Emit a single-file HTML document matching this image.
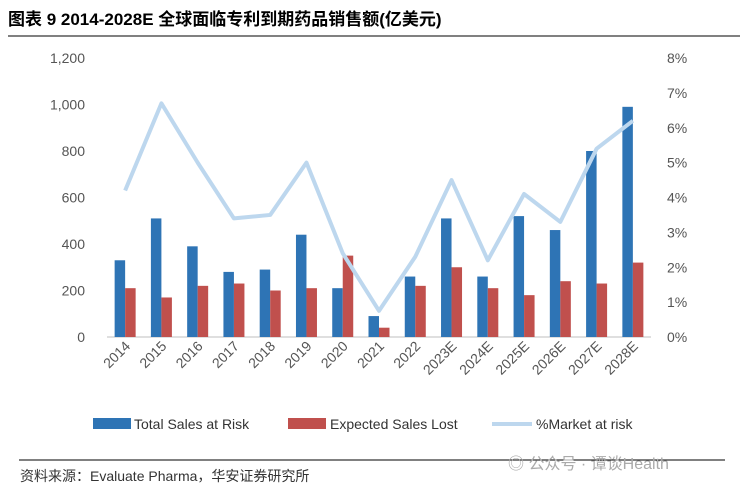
<!DOCTYPE html>
<html><head><meta charset="utf-8">
<style>
body{margin:0;background:#fff;width:748px;height:491px;overflow:hidden;font-family:"Liberation Sans","Noto Sans CJK SC",sans-serif;}
svg text{font-family:"Liberation Sans","Noto Sans CJK SC",sans-serif;}
</style></head><body>
<svg id="c" width="748" height="491">
<text x="8" y="25" font-size="17" font-weight="bold" fill="#000">图表 9 2014-2028E 全球面临专利到期药品销售额(亿美元)</text>
<line x1="8" y1="36" x2="740" y2="36" stroke="#000" stroke-width="1"/>
<g id="plot"></g>
<g>
<rect x="93" y="418" width="38" height="11" fill="#2e74b5"/>
<text x="134" y="429" font-size="14" fill="#333">Total Sales at Risk</text>
<rect x="288" y="418" width="38" height="11" fill="#c0504d"/>
<text x="330" y="429" font-size="14" fill="#333">Expected Sales Lost</text>
<line x1="492" y1="424" x2="532" y2="424" stroke="#bdd7ee" stroke-width="4"/>
<text x="536" y="429" font-size="14" fill="#333">%Market at risk</text>
</g>
<line x1="19" y1="460" x2="725" y2="460" stroke="#000" stroke-width="1"/>
<text x="20" y="481" font-size="14" fill="#333">资料来源：Evaluate Pharma，华安证券研究所</text>
<text x="508" y="469" font-size="16" fill="#aaa">◎ 公众号 · 谭谈Health</text>
</svg>
<script>
const categories=["2014","2015","2016","2017","2018","2019","2020","2021","2022","2023E","2024E","2025E","2026E","2027E","2028E"];
const totalSales=[330,510,390,280,290,440,210,90,260,510,260,520,460,800,990];
const expectedLost=[210,170,220,230,200,210,350,40,220,300,210,180,240,230,320];
const marketPct=[4.2,6.7,5.0,3.4,3.5,5.0,2.4,0.75,2.3,4.5,2.2,4.1,3.3,5.4,6.2];
const leftTicks=[0,200,400,600,800,1000,1200];
const rightTicks=[0,1,2,3,4,5,6,7,8];
const NS="http://www.w3.org/2000/svg";
const g=document.getElementById('plot');
const X0=107,X1=651,Y0=337,Y1=58;
const step=(X1-X0)/categories.length;
const xc=i=>X0+step*(i+0.5);
const yL=v=>Y0-(v/1200)*(Y0-Y1);
const yR=v=>Y0-(v/8)*(Y0-Y1);
function mk(t,a){const e=document.createElementNS(NS,t);for(const k in a)e.setAttribute(k,a[k]);g.appendChild(e);return e;}
leftTicks.forEach(v=>{
 const t=mk('text',{x:85,y:yL(v)+5,'font-size':14,fill:'#555','text-anchor':'end'});
 t.textContent=v.toLocaleString('en-US');
 
 
});
rightTicks.forEach(v=>{
 const t=mk('text',{x:667,y:yR(v)+5,'font-size':14,fill:'#555'});
 t.textContent=v+'%';
 
 
});
const ax=mk('line',{x1:X0,y1:Y0,x2:X1,y2:Y0,stroke:'#bfbfbf','stroke-width':1});


const bw=10.5;
categories.forEach((c,i)=>{
 const b=mk('rect',{x:xc(i)-bw,y:yL(totalSales[i]),width:bw,height:Y0-yL(totalSales[i]),fill:'#2e74b5'});
 
 
 const r=mk('rect',{x:xc(i),y:yL(expectedLost[i]),width:bw,height:Y0-yL(expectedLost[i]),fill:'#c0504d'});
 
 
 const t=mk('text',{x:xc(i)+6,y:347,'font-size':14,fill:'#555','text-anchor':'end',transform:`rotate(-45 ${xc(i)+6} 347)`});
 t.textContent=c;
 
 
});
const pts=marketPct.map((v,i)=>xc(i)+','+yR(v)).join(' ');
const l=mk('polyline',{points:pts,fill:'none',stroke:'#bdd7ee','stroke-width':4,'stroke-linejoin':'round'});


</script>
</body></html>
